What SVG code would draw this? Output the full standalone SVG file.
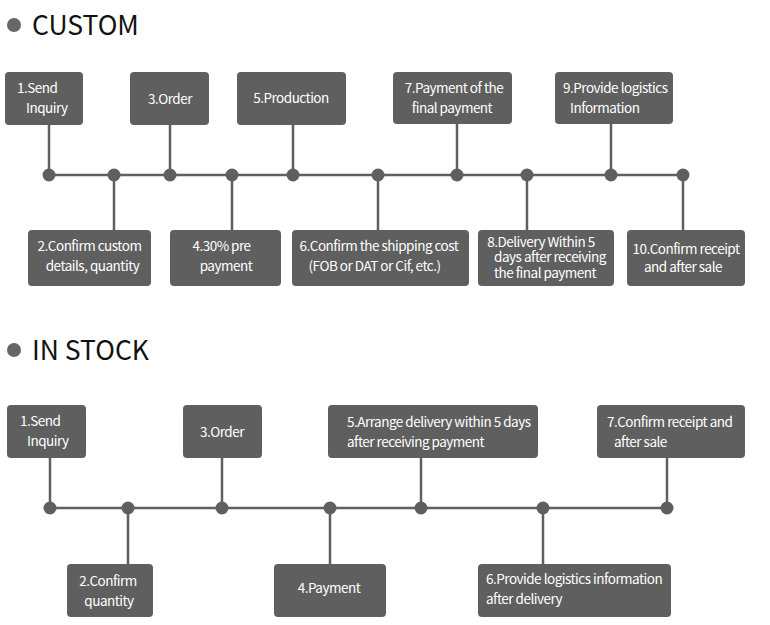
<svg xmlns="http://www.w3.org/2000/svg" width="770" height="625" viewBox="0 0 770 625">
<style>
.bg{fill:#ffffff}
.box{fill:#5f5f5f}
.t{font-family:"Noto Sans CJK SC","Noto Sans",sans-serif;font-size:13.5px;letter-spacing:-0.5px;font-weight:400;fill:#ffffff}
.h{font-family:"Noto Sans CJK SC","Noto Sans",sans-serif;font-size:26.5px;font-weight:400;fill:#111111}
.ln{stroke:#5f5f5f;stroke-width:2.5;fill:none}
.dot{fill:#5f5f5f}
.bul{fill:#666666}
</style>
<rect class="bg" x="0" y="0" width="770" height="625"/>

<g id="title-custom">
<circle class="bul" cx="14" cy="25" r="7"/>
<text class="h" x="32" y="35">CUSTOM</text>
</g>
<g id="title-instock">
<circle class="bul" cx="14" cy="350" r="7"/>
<text class="h" x="32" y="360">IN STOCK</text>
</g>

<g id="connectors">
<!-- custom -->
<line class="ln" x1="49" y1="175" x2="683" y2="175"/>
<line class="ln" x1="49" y1="125" x2="49" y2="175"/>
<line class="ln" x1="170" y1="125" x2="170" y2="175"/>
<line class="ln" x1="293" y1="125" x2="293" y2="175"/>
<line class="ln" x1="457" y1="124" x2="457" y2="175"/>
<line class="ln" x1="611" y1="124" x2="611" y2="175"/>
<line class="ln" x1="114" y1="175" x2="114" y2="230"/>
<line class="ln" x1="232" y1="175" x2="232" y2="230"/>
<line class="ln" x1="378" y1="175" x2="378" y2="230"/>
<line class="ln" x1="527" y1="175" x2="527" y2="230"/>
<line class="ln" x1="683" y1="175" x2="683" y2="230"/>
<circle class="dot" cx="49" cy="175" r="6.5"/>
<circle class="dot" cx="114" cy="175" r="6.5"/>
<circle class="dot" cx="170" cy="175" r="6.5"/>
<circle class="dot" cx="232" cy="175" r="6.5"/>
<circle class="dot" cx="293" cy="175" r="6.5"/>
<circle class="dot" cx="378" cy="175" r="6.5"/>
<circle class="dot" cx="457" cy="175" r="6.5"/>
<circle class="dot" cx="527" cy="175" r="6.5"/>
<circle class="dot" cx="611" cy="175" r="6.5"/>
<circle class="dot" cx="683" cy="175" r="6.5"/>
<!-- in stock -->
<line class="ln" x1="50" y1="508" x2="667" y2="508"/>
<line class="ln" x1="50" y1="458" x2="50" y2="508"/>
<line class="ln" x1="222" y1="458" x2="222" y2="508"/>
<line class="ln" x1="421" y1="458" x2="421" y2="508"/>
<line class="ln" x1="667" y1="458" x2="667" y2="508"/>
<line class="ln" x1="128" y1="508" x2="128" y2="564"/>
<line class="ln" x1="330" y1="508" x2="330" y2="564"/>
<line class="ln" x1="543" y1="508" x2="543" y2="564"/>
<circle class="dot" cx="50" cy="508" r="6.5"/>
<circle class="dot" cx="128" cy="508" r="6.5"/>
<circle class="dot" cx="222" cy="508" r="6.5"/>
<circle class="dot" cx="330" cy="508" r="6.5"/>
<circle class="dot" cx="421" cy="508" r="6.5"/>
<circle class="dot" cx="543" cy="508" r="6.5"/>
<circle class="dot" cx="667" cy="508" r="6.5"/>
</g>

<!-- CUSTOM nodes -->
<g id="c1">
<rect class="box" x="5" y="72" width="78" height="53" rx="4"/>
<text class="t" x="17" y="93">1.Send</text>
<text class="t" x="26" y="113">Inquiry</text>
</g>
<g id="c3">
<rect class="box" x="130" y="72" width="79" height="53" rx="4"/>
<text class="t" x="170" y="103.5" text-anchor="middle">3.Order</text>
</g>
<g id="c5">
<rect class="box" x="237" y="72" width="109" height="53" rx="4"/>
<text class="t" x="291" y="102.5" text-anchor="middle">5.Production</text>
</g>
<g id="c7">
<rect class="box" x="393" y="72" width="119" height="52" rx="4"/>
<text class="t" x="454" y="92.5" text-anchor="middle">7.Payment of the</text>
<text class="t" x="452" y="113" text-anchor="middle">final payment</text>
</g>
<g id="c9">
<rect class="box" x="555" y="72" width="118" height="52" rx="4"/>
<text class="t" x="563" y="92.5">9.Provide logistics</text>
<text class="t" x="570" y="113">Information</text>
</g>
<g id="c2">
<rect class="box" x="28" y="230" width="123" height="56" rx="4"/>
<text class="t" x="89.5" y="250.5" text-anchor="middle">2.Confirm custom</text>
<text class="t" x="92.5" y="270.5" text-anchor="middle">details, quantity</text>
</g>
<g id="c4">
<rect class="box" x="170" y="230" width="111" height="56" rx="4"/>
<text class="t" x="221.5" y="250.5" text-anchor="middle">4.30% pre</text>
<text class="t" x="226" y="270.5" text-anchor="middle">payment</text>
</g>
<g id="c6">
<rect class="box" x="292" y="230" width="177" height="56" rx="4"/>
<text class="t" x="379" y="250.5" text-anchor="middle">6.Confirm the shipping cost</text>
<text class="t" x="374.5" y="270.5" text-anchor="middle">(FOB or DAT or Cif, etc.)</text>
</g>
<g id="c8">
<rect class="box" x="478" y="230" width="136" height="56" rx="4"/>
<text class="t" x="541" y="246.5" text-anchor="middle">8.Delivery Within 5</text>
<text class="t" x="550" y="262" text-anchor="middle">days after receiving</text>
<text class="t" x="545" y="277.5" text-anchor="middle">the final payment</text>
</g>
<g id="c10">
<rect class="box" x="627" y="230" width="118" height="56" rx="4"/>
<text class="t" x="686" y="254" text-anchor="middle">10.Confirm receipt</text>
<text class="t" x="683" y="272" text-anchor="middle">and after sale</text>
</g>

<!-- IN STOCK nodes -->
<g id="s1">
<rect class="box" x="7" y="405" width="79" height="53" rx="4"/>
<text class="t" x="20" y="425.5">1.Send</text>
<text class="t" x="27" y="446">Inquiry</text>
</g>
<g id="s3">
<rect class="box" x="183" y="405" width="79" height="53" rx="4"/>
<text class="t" x="222" y="436.5" text-anchor="middle">3.Order</text>
</g>
<g id="s5">
<rect class="box" x="328" y="405" width="210" height="53" rx="4"/>
<text class="t" x="347" y="426.5">5.Arrange delivery within 5 days</text>
<text class="t" x="347" y="447">after receiving payment</text>
</g>
<g id="s7">
<rect class="box" x="597" y="405" width="148" height="53" rx="4"/>
<text class="t" x="607" y="426.5">7.Confirm receipt and</text>
<text class="t" x="614" y="447">after sale</text>
</g>
<g id="s2">
<rect class="box" x="67" y="564" width="86" height="53" rx="4"/>
<text class="t" x="108" y="586" text-anchor="middle">2.Confirm</text>
<text class="t" x="109" y="605.5" text-anchor="middle">quantity</text>
</g>
<g id="s4">
<rect class="box" x="274" y="564" width="112" height="53" rx="4"/>
<text class="t" x="329" y="592.5" text-anchor="middle">4.Payment</text>
</g>
<g id="s6">
<rect class="box" x="478" y="564" width="193" height="53" rx="4"/>
<text class="t" x="486" y="584">6.Provide logistics information</text>
<text class="t" x="486" y="604">after delivery</text>
</g>
</svg>
